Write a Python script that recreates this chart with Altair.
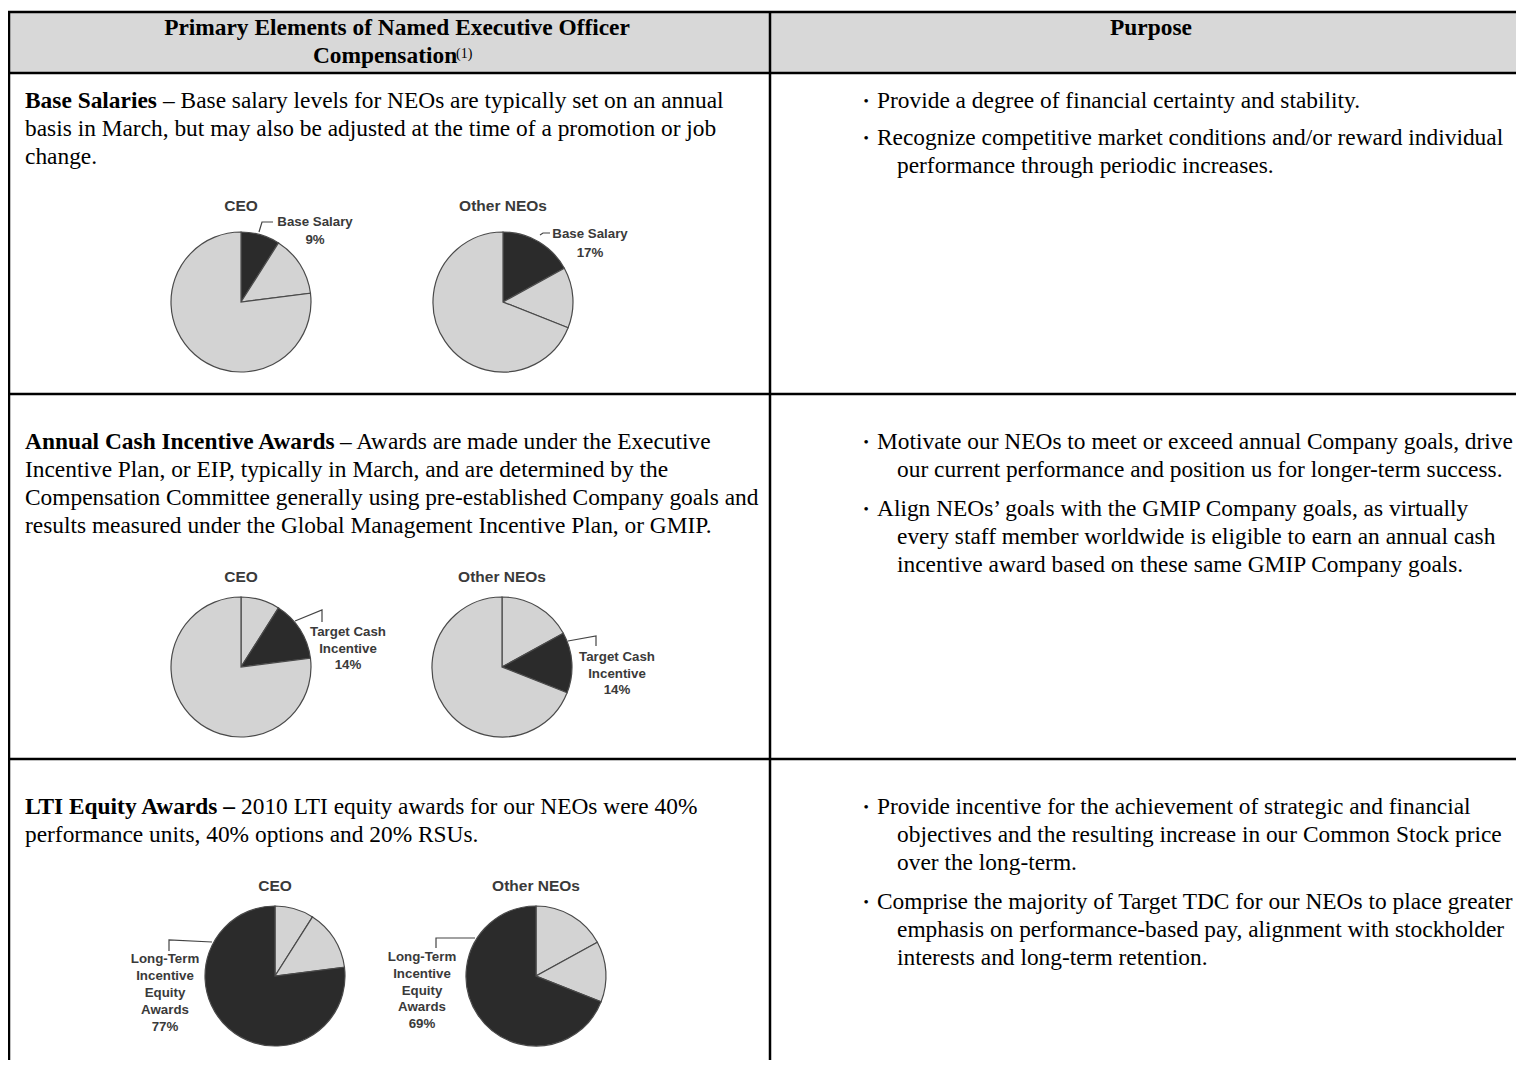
import math
import altair as alt
import pandas as pd

# ---------------- data ----------------
groups = ["CEO", "Other NEOs"]
elements = ["Base Salary", "Target Cash Incentive", "Long-Term Incentive Equity Awards"]
ceo_share = [9, 14, 77]
neo_share = [17, 14, 69]

header_left = ["Primary Elements of Named Executive Officer", "Compensation"]
header_note = "(1)"
header_right = "Purpose"

row_titles = ["Base Salaries", "Annual Cash Incentive Awards", "LTI Equity Awards –"]
row_title_tail = [
    "– Base salary levels for NEOs are typically set on an annual",
    "– Awards are made under the Executive",
    "2010 LTI equity awards for our NEOs were 40%",
]
row_body = [
    ["basis in March, but may also be adjusted at the time of a promotion or job", "change."],
    ["Incentive Plan, or EIP, typically in March, and are determined by the",
     "Compensation Committee generally using pre-established Company goals and",
     "results measured under the Global Management Incentive Plan, or GMIP."],
    ["performance units, 40% options and 20% RSUs."],
]
purpose = [
    [["Provide a degree of financial certainty and stability."],
     ["Recognize competitive market conditions and/or reward individual",
      "performance through periodic increases."]],
    [["Motivate our NEOs to meet or exceed annual Company goals, drive",
      "our current performance and position us for longer-term success."],
     ["Align NEOs’ goals with the GMIP Company goals, as virtually",
      "every staff member worldwide is eligible to earn an annual cash",
      "incentive award based on these same GMIP Company goals."]],
    [["Provide incentive for the achievement of strategic and financial",
      "objectives and the resulting increase in our Common Stock price",
      "over the long-term."],
     ["Comprise the majority of Target TDC for our NEOs to place greater",
      "emphasis on performance-based pay, alignment with stockholder",
      "interests and long-term retention."]],
]
slice_label_lines = [["Base Salary"], ["Target Cash", "Incentive"],
                     ["Long-Term", "Incentive", "Equity", "Awards"]]

# ---------------- layout (page pixel positions) ----------------
LINE = 28
FS = 23.4
text_x = 25
row_first_y = [101, 442, 807]
tail_x = [163, 340, 241]
bullet_x, bullet_text_x, bullet_cont_x = 866, 877, 897
bullet_start_y = [[101, 138], [442, 509], [807, 902]]
pie_centers = [[(241, 302), (503, 302)], [(241, 667), (502, 667)], [(275, 976), (536, 976)]]
pie_title_y = [206, 577, 886]
pie_radius = 70
label_pos = [  # (center x, first line y, line step)
    [(315, 222, 18), (590, 234, 19)],
    [(348, 632, 16.5), (617, 657, 16.5)],
    [(165, 959, 17), (422, 957, 16.8)],
]
leaders = [
    [[(259, 232), (262, 222), (273, 222)], [(540, 235), (543, 233), (550, 233)]],
    [[(295, 621), (322, 610), (322, 622)], [(568, 641), (596, 636), (596, 646)]],
    [[(212, 942), (169, 940), (169, 951)], [(475, 938), (436, 938), (436, 948)]],
]
TOP, HEAD_BOT, COL = 12, 73, 770
row_lines = [394, 759]

X = alt.Scale(domain=[8, 1516], range=[0, 1508])
Y = alt.Scale(domain=[8, 1060], range=[0, 1052])


def ex(f="x"):
    return alt.X(f"{f}:Q", scale=X, axis=None)


def ey(f="y"):
    return alt.Y(f"{f}:Q", scale=Y, axis=None)


SERIF = "Liberation Serif"
SANS = "Liberation Sans"

# header background
head_df = pd.DataFrame([{"x": 0, "x2": 1530, "y": TOP, "y2": HEAD_BOT}])
head = alt.Chart(head_df).mark_rect(color="#d8d8d8").encode(
    x=ex(), x2="x2:Q", y=ey(), y2="y2:Q")

# table lines
lines_df = pd.DataFrame([
    {"x": 0, "x2": 1530, "y": TOP, "y2": TOP},
    {"x": 0, "x2": 1530, "y": HEAD_BOT, "y2": HEAD_BOT},
    {"x": 0, "x2": 1530, "y": row_lines[0], "y2": row_lines[0]},
    {"x": 0, "x2": 1530, "y": row_lines[1], "y2": row_lines[1]},
    {"x": 9, "x2": 9, "y": TOP, "y2": 1070},
    {"x": COL, "x2": COL, "y": TOP, "y2": 1070},
])
rules = alt.Chart(lines_df).mark_rule(color="black", strokeWidth=2.5).encode(
    x=ex(), x2="x2:Q", y=ey(), y2="y2:Q")

# pies
pie_rows = []
for r in range(3):
    for g, shares in enumerate([ceo_share, neo_share]):
        cx, cy = pie_centers[r][g]
        start = 0
        for k, (name, v) in enumerate(zip(elements, shares)):
            pie_rows.append({"cx": cx, "cy": cy, "t0": start, "t1": start + v,
                             "group": groups[g], "element": name,
                             "hl": "dark" if k == r else "light"})
            start += v
pie_df = pd.DataFrame(pie_rows)
pies = alt.Chart(pie_df).mark_arc(radius=pie_radius, stroke="#4a4a4a", strokeWidth=1.2).encode(
    x=ex("cx"), y=ey("cy"),
    theta=alt.Theta("t0:Q", scale=alt.Scale(domain=[0, 100], range=[0, 2 * math.pi])),
    theta2="t1:Q",
    color=alt.Color("hl:N", scale=alt.Scale(domain=["dark", "light"], range=["#2b2b2b", "#d3d3d3"]),
                    legend=None),
)

# leader lines
lead_rows = []
for r in range(3):
    for g in range(2):
        for i, (px, py) in enumerate(leaders[r][g]):
            lead_rows.append({"x": px, "y": py, "id": f"{r}-{g}", "o": i})
lead = alt.Chart(pd.DataFrame(lead_rows)).mark_line(color="#444", strokeWidth=1.2).encode(
    x=ex(), y=ey(), detail="id:N", order="o:Q")

# pie titles
title_rows = []
for r in range(3):
    for g in range(2):
        title_rows.append({"x": pie_centers[r][g][0], "y": pie_title_y[r], "text": groups[g]})
ptitles = alt.Chart(pd.DataFrame(title_rows)).mark_text(
    font=SANS, fontSize=15.5, fontWeight="bold", color="#3a3a3a", baseline="middle", align="center"
).encode(x=ex(), y=ey(), text="text:N")

# slice labels
lab_rows = []
for r in range(3):
    for g, shares in enumerate([ceo_share, neo_share]):
        lx, ly, step = label_pos[r][g]
        lines_ = slice_label_lines[r] + [f"{shares[r]}%"]
        for i, t in enumerate(lines_):
            lab_rows.append({"x": lx, "y": ly + i * step, "text": t})
plabels = alt.Chart(pd.DataFrame(lab_rows)).mark_text(
    font=SANS, fontSize=13.3, fontWeight="bold", color="#3a3a3a", baseline="middle", align="center"
).encode(x=ex(), y=ey(), text="text:N")

# header text
hdr_rows = [
    {"x": 397, "y": 28, "text": header_left[0]},
    {"x": 385, "y": 56, "text": header_left[1]},
    {"x": 1151, "y": 28, "text": header_right},
]
hdr = alt.Chart(pd.DataFrame(hdr_rows)).mark_text(
    font=SERIF, fontSize=FS, fontWeight="bold", color="black", baseline="middle", align="center"
).encode(x=ex(), y=ey(), text="text:N")
note = alt.Chart(pd.DataFrame([{"x": 456, "y": 54, "text": header_note}])).mark_text(
    font=SERIF, fontSize=14, color="black", baseline="middle", align="left"
).encode(x=ex(), y=ey(), text="text:N")

# left column text
bold_rows, reg_rows = [], []
for r in range(3):
    y0 = row_first_y[r]
    bold_rows.append({"x": text_x, "y": y0, "text": row_titles[r]})
    reg_rows.append({"x": tail_x[r], "y": y0, "text": row_title_tail[r]})
    for i, t in enumerate(row_body[r]):
        reg_rows.append({"x": text_x, "y": y0 + (i + 1) * LINE, "text": t})

# right column bullets
bullet_rows = []
for r in range(3):
    for b, lines_ in enumerate(purpose[r]):
        y0 = bullet_start_y[r][b]
        bullet_rows.append({"x": bullet_x, "y": y0, "text": "•"})
        for i, t in enumerate(lines_):
            reg_rows.append({"x": bullet_text_x if i == 0 else bullet_cont_x,
                             "y": y0 + i * LINE, "text": t})

bold_txt = alt.Chart(pd.DataFrame(bold_rows)).mark_text(
    font=SERIF, fontSize=FS, fontWeight="bold", color="black", baseline="middle", align="left"
).encode(x=ex(), y=ey(), text="text:N")
reg_txt = alt.Chart(pd.DataFrame(reg_rows)).mark_text(
    font=SERIF, fontSize=FS, color="black", baseline="middle", align="left"
).encode(x=ex(), y=ey(), text="text:N")
bul_txt = alt.Chart(pd.DataFrame(bullet_rows)).mark_text(
    font=SERIF, fontSize=15, color="black", baseline="middle", align="center"
).encode(x=ex(), y=ey(), text="text:N")

chart = alt.layer(head, pies, lead, rules, ptitles, plabels, hdr, note, bold_txt, reg_txt, bul_txt).properties(
    width=1508, height=1052,
    autosize=alt.AutoSizeParams(type="none"),
    padding=0,
).configure_view(strokeWidth=0)

chart.save("out.html", embed_options={"renderer": "svg", "actions": False})
